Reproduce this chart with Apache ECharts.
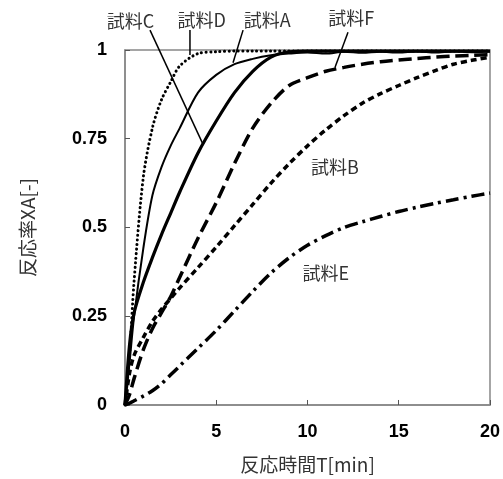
<!DOCTYPE html>
<html>
<head>
<meta charset="utf-8">
<script src="https://cdn.jsdelivr.net/npm/echarts@6/dist/echarts.min.js"></script>
<style>
    html, body { margin: 0; padding: 0; background: #fff; }
    #main { width: 503px; height: 479px; }
</style>
</head>
<body>
<div id="main"></div>
<script>
// 時間軸 (min)
var timeList = [0, 0.25, 0.5, 1, 1.5, 2, 2.5, 3, 4, 5, 6, 7, 8, 9, 10, 11, 12, 13, 14, 15, 16, 17, 18, 19, 20];
// 反応率
var sampleC = [0, 0.14, 0.35, 0.64, 0.78, 0.86, 0.91, 0.955, 0.99, 0.995, 0.997, 0.997, 0.997, 0.997, 0.997, 0.997, 0.997, 0.997, 0.997, 0.997, 0.997, 0.997, 0.997, 0.997, 0.997];
var sampleD = [0, 0.12, 0.25, 0.44, 0.59, 0.67, 0.73, 0.78, 0.88, 0.93, 0.96, 0.975, 0.985, 0.99, 0.993, 0.99, 0.995, 0.992, 0.995, 0.993, 0.996, 0.993, 0.996, 0.994, 0.996];
var sampleA = [0, 0.17, 0.26, 0.345, 0.415, 0.48, 0.54, 0.6, 0.71, 0.8, 0.88, 0.94, 0.98, 0.995, 0.997, 0.997, 0.997, 0.997, 0.997, 0.997, 0.997, 0.997, 0.997, 0.997, 0.997];
var sampleF = [0, 0.03, 0.075, 0.155, 0.215, 0.26, 0.305, 0.36, 0.47, 0.57, 0.68, 0.78, 0.85, 0.9, 0.922, 0.94, 0.951, 0.96, 0.967, 0.972, 0.976, 0.98, 0.983, 0.985, 0.987];
var sampleB = [0, 0.09, 0.14, 0.19, 0.235, 0.27, 0.3, 0.33, 0.387, 0.445, 0.505, 0.565, 0.625, 0.68, 0.73, 0.775, 0.815, 0.85, 0.877, 0.9, 0.922, 0.942, 0.96, 0.971, 0.98];
var sampleE = [0, 0.005, 0.012, 0.025, 0.04, 0.06, 0.085, 0.11, 0.16, 0.21, 0.265, 0.32, 0.372, 0.415, 0.45, 0.477, 0.5, 0.516, 0.531, 0.545, 0.557, 0.568, 0.578, 0.588, 0.597];
// 注記 (データ座標)
var labelNames = ['試料C', '試料D', '試料A', '試料F', '試料B', '試料E'];
var labelPos = [[0.3, 1.08], [4.2, 1.085], [7.8, 1.085], [12.4, 1.09], [11.5, 0.67], [11.0, 0.37]];
var leaderFrom = [[1.37, 1.056], [3.56, 1.056], [6.47, 1.056], [12.22, 1.05], null, null];
var leaderTo = [[4.27, 0.735], [3.56, 0.986], [5.92, 0.964], [11.5, 0.95], null, null];

function pairs(ys) {
    return timeList.map(function (t, i) { return [t, ys[i]]; });
}
function makeSeries(name, ys, style) {
    return {
        name: name,
        type: 'line',
        data: pairs(ys),
        smooth: 0.3,
        showSymbol: false,
        clip: false,
        lineStyle: style
    };
}

var myChart = echarts.init(document.getElementById('main'));
var option = {
    animation: false,
    grid: { left: 125, right: 13, top: 50, bottom: 71, show: true, borderColor: '#888', borderWidth: 1.5 },
    xAxis: {
        type: 'value', min: 0, max: 20, interval: 5,
        name: '反応時間T[min]', nameLocation: 'middle', nameGap: 50,
        nameTextStyle: { fontSize: 19, color: '#333', fontFamily: 'Noto Sans CJK JP' },
        axisLine: { lineStyle: { color: '#888', width: 1.5 } },
        axisTick: { inside: true, length: 5, lineStyle: { color: '#555' } },
        axisLabel: { fontSize: 18, fontWeight: 'bold', color: '#000', margin: 18, fontFamily: 'Liberation Sans' },
        splitLine: { show: false }
    },
    yAxis: {
        type: 'value', min: 0, max: 1, interval: 0.25,
        name: '反応率XA[-]', nameLocation: 'middle', nameGap: 88, nameRotate: 90,
        nameTextStyle: { fontSize: 19, color: '#333', fontFamily: 'Noto Sans CJK JP' },
        axisLine: { lineStyle: { color: '#888', width: 1.5 } },
        axisTick: { inside: true, length: 5, lineStyle: { color: '#555' } },
        axisLabel: { fontSize: 18, fontWeight: 'bold', color: '#000', margin: 18, fontFamily: 'Liberation Sans' },
        splitLine: { show: false }
    },
    series: [
        makeSeries('C', sampleC, { color: '#000', width: 3, type: [0.1, 4.5], cap: 'round' }),
        makeSeries('D', sampleD, { color: '#000', width: 2 }),
        makeSeries('A', sampleA, { color: '#000', width: 3.2 }),
        makeSeries('F', sampleF, { color: '#000', width: 3.5, type: [13, 6] }),
        makeSeries('B', sampleB, { color: '#000', width: 3.5, type: [6, 4] }),
        makeSeries('E', sampleE, { color: '#000', width: 3.5, type: [13, 5, 3, 5] })
    ]
};
myChart.setOption(option);

// 注記を配置
var graphics = [];
labelNames.forEach(function (nm, i) {
    var p = myChart.convertToPixel({ gridIndex: 0 }, labelPos[i]);
    graphics.push({
        type: 'text', x: p[0], y: p[1],
        style: { text: nm, fill: '#333', fontSize: 18, fontFamily: 'Noto Sans CJK JP', align: 'center', verticalAlign: 'middle' }
    });
    if (leaderFrom[i]) {
        var a = myChart.convertToPixel({ gridIndex: 0 }, leaderFrom[i]);
        var b = myChart.convertToPixel({ gridIndex: 0 }, leaderTo[i]);
        graphics.push({
            type: 'line',
            shape: { x1: a[0], y1: a[1], x2: b[0], y2: b[1] },
            style: { stroke: '#000', lineWidth: 1.5 }
        });
    }
});
myChart.setOption({ graphic: graphics });
</script>
</body>
</html>
